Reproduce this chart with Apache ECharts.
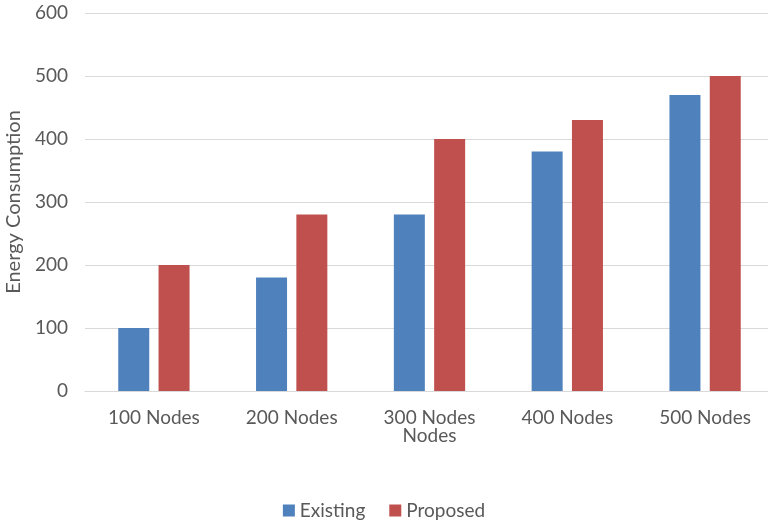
<!DOCTYPE html>
<html>
<head>
<meta charset="utf-8">
<script src="https://cdn.jsdelivr.net/npm/echarts@6/dist/echarts.min.js"></script>
<style>
  html, body { margin: 0; padding: 0; background: #fff; }
  #chart { width: 768px; height: 529px; }
</style>
</head>
<body>
<div id="chart"></div>
<script>
const categories = ['100 Nodes', '200 Nodes', '300 Nodes', '400 Nodes', '500 Nodes'];
const existing = [100, 180, 280, 380, 470];
const proposed = [200, 280, 400, 430, 500];

const font = 'Lato, "Open Sans", sans-serif';
const labelColor = '#595959';

const chart = echarts.init(document.getElementById('chart'));
chart.setOption({
  animation: false,
  textStyle: { fontFamily: font },
  grid: { left: 85, right: -6, top: 13, bottom: 138, outerBoundsMode: 'none' },
  legend: {
    bottom: 4,
    left: 'center',
    itemWidth: 12,
    itemHeight: 12,
    itemGap: 24,
    icon: 'rect',
    textStyle: { fontSize: 19, color: labelColor, fontFamily: font },
    data: ['Existing', 'Proposed']
  },
  xAxis: {
    type: 'category',
    data: categories,
    name: 'Nodes',
    nameLocation: 'middle',
    nameGap: 35,
    nameMoveOverlap: false,
    nameTextStyle: { fontSize: 19, color: labelColor },
    axisTick: { show: false },
    axisLine: { lineStyle: { color: '#d9d9d9' } },
    axisLabel: { fontSize: 19, color: labelColor, margin: 17 }
  },
  yAxis: {
    type: 'value',
    min: 0,
    max: 600,
    interval: 100,
    name: 'Energy Consumption',
    nameLocation: 'middle',
    nameGap: 58,
    nameRotate: 90,
    nameTextStyle: { fontSize: 20, color: labelColor },
    axisLine: { show: false },
    axisTick: { show: false },
    axisLabel: { fontSize: 19, color: labelColor, margin: 17 },
    splitLine: { lineStyle: { color: '#d9d9d9' } }
  },
  series: [
    {
      name: 'Existing',
      type: 'bar',
      data: existing,
      barWidth: 31,
      barGap: '30%',
      itemStyle: { color: '#4F81BD' }
    },
    {
      name: 'Proposed',
      type: 'bar',
      data: proposed,
      barWidth: 31,
      itemStyle: { color: '#C0504D' }
    }
  ]
});
</script>
</body>
</html>
